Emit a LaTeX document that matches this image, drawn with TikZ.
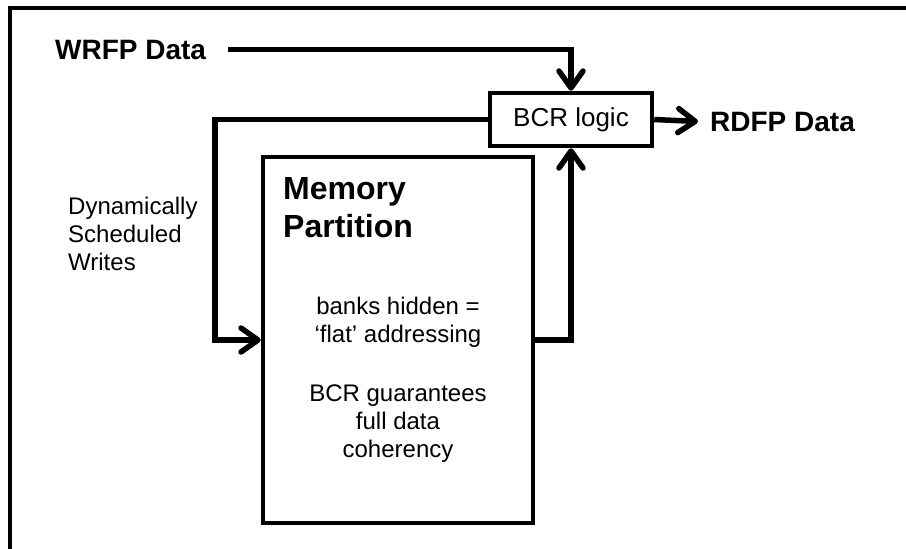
\documentclass[tikz,border=0pt]{standalone}
\usepackage{fontspec}
\setmainfont{Liberation Sans}
\usetikzlibrary{arrows.meta}

\tikzset{
  wire/.style={line width=5.5pt, line join=miter},
  arr/.style={wire, -{Straight Barb[length=17pt,width=24pt,round]}},
  box/.style={draw, line width=4.5pt, inner sep=0pt},
  body/.style={font=\fontsize{24}{28}\selectfont, inner sep=0pt},
  label/.style={font=\fontsize{28}{32}\selectfont\bfseries, inner sep=0pt},
  title/.style={font=\fontsize{32}{38}\selectfont\bfseries, inner sep=0pt, align=left}
}

\begin{document}
\begin{tikzpicture}[x=1pt, y=-1pt]
  \useasboundingbox (0,0) rectangle (906,549);

  % outer frame (top and left edges)
  \draw[line width=4pt, line join=miter] (10,560) |- (920,8);

  % blocks
  \node[box, minimum width=162pt, minimum height=53pt, font=\fontsize{26}{28}\selectfont] (bcr) at (571,119.5) {BCR logic};
  \node[box, minimum width=270pt, minimum height=366pt] (mem) at (398,340) {};

  % texts (multi-line nodes are placed by the baseline of their last line)
  \node[label, anchor=base west] (wrfp) at (55,59) {WRFP Data};
  \node[label, anchor=base west] (rdfp) at (710,131) {RDFP Data};
  \node[title, anchor=base west] (memtitle) at (283,237) {Memory\\Partition};
  \node[body, anchor=base west, align=left] (dsw) at (68,270) {Dynamically\\Scheduled\\Writes};
  \node[body, anchor=base, align=center] (banks) at (398,342) {banks hidden =\\‘flat’ addressing};
  \node[body, anchor=base, align=center] (coh) at (398,457) {BCR guarantees\\full data\\coherency};

  % connectors
  \coordinate (loopL) at (215,340);
  \coordinate (loopR) at (571,340);
  \draw[arr] ([xshift=22pt]wrfp.east) -| (bcr.north);
  \draw[arr] (bcr.west) -| (loopL) -- (mem.west);
  \draw[arr] (mem.east) -- (loopR) -- (bcr.south);
  \draw[arr] (bcr.east) -- ([xshift=-12pt]rdfp.west);
\end{tikzpicture}
\end{document}
